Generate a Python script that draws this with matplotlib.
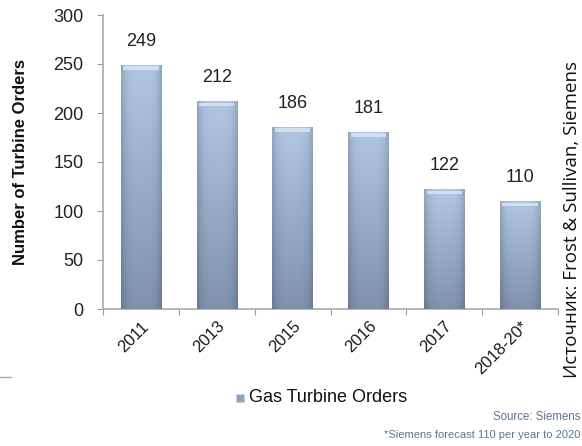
import matplotlib
matplotlib.use("Agg")
import matplotlib.pyplot as plt
import numpy as np
from matplotlib.lines import Line2D
from matplotlib import font_manager as fm

def find_font(stem):
    for f in fm.fontManager.ttflist:
        if f.fname.split("/")[-1].startswith(stem):
            return f.fname
    return None

reg_path = find_font("LiberationSans-Regular")
bold_path = find_font("LiberationSans-Bold.")
def fp(size, bold=False):
    p = bold_path if bold else reg_path
    if p:
        return fm.FontProperties(fname=p, size=size)
    return fm.FontProperties(family="DejaVu Sans", size=size,
                             weight="bold" if bold else "normal")

categories = ["2011", "2013", "2015", "2016", "2017", "2018-20*"]
orders = [249, 212, 186, 181, 122, 110]
yticks = [0, 50, 100, 150, 200, 250, 300]

fig = plt.figure(figsize=(5.82, 4.46), dpi=100)
ax = fig.add_axes([103/582, 1-309/446, 455/582, 294/446])

x = np.arange(len(categories))
bars = ax.bar(x, orders, width=0.53, color="#9cb2cf", edgecolor="none", zorder=2)

# gradient fill for each bar
ny, nx = 128, 32
yy = np.linspace(0, 1, ny)[:, None]
xx = np.linspace(-1, 1, nx)[None, :]
top = np.array([0.69, 0.78, 0.89])
bot = np.array([0.50, 0.57, 0.68])
base = bot[None, None, :] + (top - bot)[None, None, :] * yy[..., None]
edge = 1 - 0.16 * np.abs(xx[..., None]) ** 4
img = np.clip(base * edge, 0, 1)
for b in bars:
    x0, y0, w, h = b.get_x(), b.get_y(), b.get_width(), b.get_height()
    im = ax.imshow(img, extent=[x0, x0 + w, y0, y0 + h], origin="lower",
                   aspect="auto", zorder=3, interpolation="bilinear")
    im.set_clip_path(b)
    # glossy cap highlight
    ax.fill_between([x0 + w * 0.06, x0 + w * 0.94], h - 5, h - 1.5,
                    color="#dbe7f4", alpha=0.8, lw=0, zorder=3.5)
    ax.text(x0 + w / 2, h + 24, str(int(h)), ha="center", va="center",
            fontproperties=fp(13), color="#222222", zorder=4)

ax.set_xlim(-0.5, len(categories) - 0.5)
ax.set_ylim(0, 300)
ax.set_yticks(yticks)
ax.set_yticklabels([str(t) for t in yticks], fontproperties=fp(13), color="#222222")
ax.set_xticks(np.arange(len(categories) + 1) - 0.5)
ax.set_xticklabels([])
ax.set_xticks(x, minor=True)
ax.set_xticklabels(categories, minor=True, rotation=45, ha="right",
                   rotation_mode="anchor", fontproperties=fp(12), color="#1a1a1a")
ax.tick_params(axis="x", which="minor", length=0, pad=7)
ax.tick_params(axis="x", which="major", length=4, color="#999999", direction="out")
ax.tick_params(axis="y", length=4, color="#999999", direction="out", pad=10)
for s in ["top", "right"]:
    ax.spines[s].set_visible(False)
ax.spines["left"].set_color("#aaaaaa")
ax.spines["bottom"].set_color("#aaaaaa")
ax.spines["left"].set_linewidth(1.2)
ax.spines["bottom"].set_linewidth(1.2)

ax.set_ylabel("Number of Turbine Orders", fontproperties=fp(12, bold=True),
              color="#111111")
ax.yaxis.set_label_coords(-(103 - 28) / 455, 0.5)

# legend
fig.patches.append(plt.Rectangle((236/582, 1-402/446), 8/582, 8/446,
                                 transform=fig.transFigure, facecolor="#8ea3bf",
                                 edgecolor="#c8d3e0", lw=0.6))
fig.text(249/582, 1-397/446, "Gas Turbine Orders", fontproperties=fp(13),
         ha="left", va="center", color="#111111")

fig.text(580/582, 1-417/446, "Source: Siemens", fontproperties=fp(8.3), ha="right",
         va="center", color="#60758f")
fig.text(580/582, 1-435/446, "*Siemens forecast 110 per year to 2020",
         fontproperties=fp(8.0), ha="right", va="center", color="#60758f")

fig.text(572/582, 1-220/446, "Источник: Frost & Sullivan, Siemens", rotation=90,
         fontsize=13.5, ha="center", va="center", family=["Open Sans", "DejaVu Sans"],
         color="#111111")

fig.lines.append(Line2D([0, 11/582], [1-377/446, 1-377/446], transform=fig.transFigure,
                        color="#aaaaaa", lw=1))

fig.savefig("out.png", dpi=100)
